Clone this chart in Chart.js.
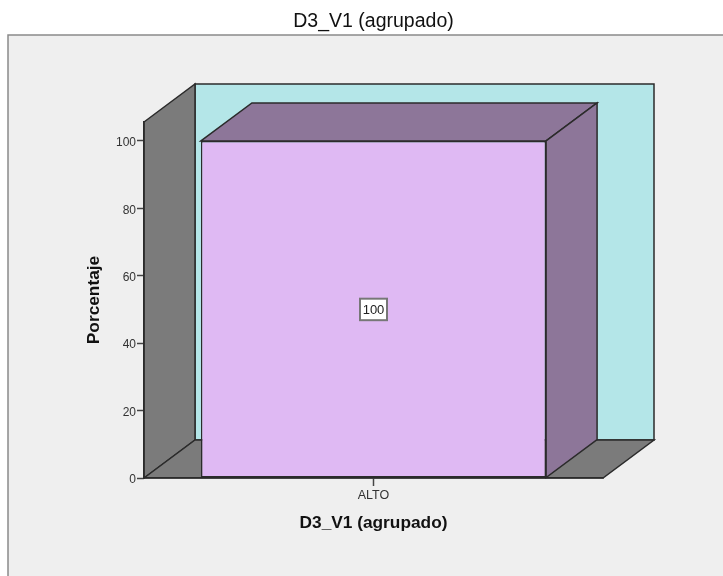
<!DOCTYPE html>
<html>
<head>
<meta charset="utf-8">
<title>D3_V1 (agrupado)</title>
<script src="https://cdn.jsdelivr.net/npm/chart.js@4"></script>
<style>
    html, body { margin: 0; padding: 0; background: #ffffff; }
    #box { width: 723px; height: 576px; }
</style>
</head>
<body>
<div id="box"><canvas id="chart-1"></canvas></div>
<script>
// Values
let categories = ['ALTO'];
let porcentajes = [100];
let yTicks = [0, 20, 40, 60, 80, 100];
let yAxisMax = 105.6;

let chartFont = '"Liberation Sans", Arial, sans-serif';
let lineColor = '#2b2b2b';

// How far the back of the 3D box is pushed away from the front
let depthX = 51;
let depthY = 38;

// Draws a filled and outlined polygon
function face(ctx, points, fill) {
    ctx.beginPath();
    points.forEach((p, i) => i == 0 ? ctx.moveTo(p[0], p[1]) : ctx.lineTo(p[0], p[1]));
    ctx.closePath();
    ctx.fillStyle = fill;
    ctx.fill();
    ctx.lineWidth = 1.5;
    ctx.strokeStyle = lineColor;
    ctx.lineJoin = 'miter';
    ctx.stroke();
}

// Grey panel and the walls of the box, under the axes
let wallsPlugin = {
    id: 'walls',
    beforeDraw(chart) {
        let ctx = chart.ctx;
        let a = chart.chartArea;

        ctx.save();
        ctx.fillStyle = '#efefef';
        ctx.strokeStyle = '#8a8a8a';
        ctx.lineWidth = 1.5;
        ctx.fillRect(8, 35, chart.width, chart.height);
        ctx.strokeRect(8, 35, chart.width, chart.height);

        // back wall
        face(ctx, [
            [a.left + depthX, a.top - depthY],
            [a.right + depthX, a.top - depthY],
            [a.right + depthX, a.bottom - depthY],
            [a.left + depthX, a.bottom - depthY]
        ], '#b4e6e8');

        // left wall
        face(ctx, [
            [a.left, a.top],
            [a.left + depthX, a.top - depthY],
            [a.left + depthX, a.bottom - depthY],
            [a.left, a.bottom]
        ], '#7b7b7b');

        // floor
        face(ctx, [
            [a.left, a.bottom],
            [a.left + depthX, a.bottom - depthY],
            [a.right + depthX, a.bottom - depthY],
            [a.right, a.bottom]
        ], '#7b7b7b');
        ctx.restore();
    }
};

// Top and side of each bar, plus the boxed value label
let barSidesPlugin = {
    id: 'barSides',
    beforeDatasetsDraw(chart) {
        let ctx = chart.ctx;
        ctx.save();
        chart.getDatasetMeta(0).data.forEach(bar => {
            let left = bar.x - bar.width / 2;
            let right = bar.x + bar.width / 2;

            face(ctx, [
                [left, bar.y],
                [left + depthX, bar.y - depthY],
                [right + depthX, bar.y - depthY],
                [right, bar.y]
            ], '#8d7699');

            face(ctx, [
                [right, bar.y],
                [right + depthX, bar.y - depthY],
                [right + depthX, bar.base - depthY],
                [right, bar.base]
            ], '#8d7699');
        });
        ctx.restore();
    },
    afterDatasetsDraw(chart) {
        let ctx = chart.ctx;
        ctx.save();
        chart.getDatasetMeta(0).data.forEach((bar, i) => {
            let cx = bar.x;
            let cy = (bar.y + bar.base) / 2;

            ctx.fillStyle = '#ffffff';
            ctx.strokeStyle = '#777777';
            ctx.lineWidth = 2;
            ctx.fillRect(cx - 13.5, cy - 10.5, 27, 21.5);
            ctx.strokeRect(cx - 13.5, cy - 10.5, 27, 21.5);

            ctx.fillStyle = '#222222';
            ctx.font = '13px ' + chartFont;
            ctx.textAlign = 'center';
            ctx.textBaseline = 'middle';
            ctx.fillText(String(porcentajes[i]), cx, cy + 1);
        });
        ctx.restore();
    }
};

new Chart(document.getElementById('chart-1'), {
    type: 'bar',
    data: {
        labels: categories,
        datasets: [{
            label: 'Porcentaje',
            data: porcentajes,
            backgroundColor: '#dfb9f3',
            borderColor: lineColor,
            borderWidth: 1.5,
            borderSkipped: false,
            barPercentage: 0.752,
            categoryPercentage: 1
        }]
    },
    plugins: [wallsPlugin, barSidesPlugin],
    options: {
        responsive: true,
        maintainAspectRatio: false,
        animation: false,
        layout: {
            padding: { left: 0, right: 120, top: 10, bottom: 0 }
        },
        plugins: {
            legend: { display: false },
            tooltip: { enabled: false },
            title: {
                display: true,
                text: 'D3_V1 (agrupado)',
                color: '#111111',
                fullSize: false,
                font: { family: chartFont, size: 19.5, weight: 'normal' },
                padding: { top: 0, bottom: 88.6 }
            }
        },
        scales: {
            x: {
                // Fixed height so the plot floor sits where it does in the picture
                afterFit(scale) { scale.height = 98; },
                grid: {
                    display: true,
                    offset: false,
                    drawOnChartArea: false,
                    drawTicks: true,
                    tickLength: 8,
                    tickWidth: 1.5,
                    color: '#444444'
                },
                border: { display: true, color: lineColor, width: 1.5 },
                ticks: {
                    color: '#333333',
                    padding: 2,
                    maxRotation: 0,
                    font: { family: chartFont, size: 12.5 }
                },
                title: {
                    display: true,
                    text: 'D3_V1 (agrupado)',
                    color: '#111111',
                    font: { family: chartFont, size: 17.3, weight: 'bold' },
                    padding: { top: 0, bottom: 42.6 }
                }
            },
            y: {
                min: 0,
                max: yAxisMax,
                afterFit(scale) { scale.width = 144; },
                // Keep only the round ticks, not the top of the axis
                afterBuildTicks(scale) {
                    scale.ticks = yTicks.map(v => ({ value: v }));
                },
                grid: {
                    display: true,
                    drawOnChartArea: false,
                    drawTicks: true,
                    tickLength: 7,
                    tickWidth: 1.5,
                    color: '#444444'
                },
                border: { display: true, color: lineColor, width: 1.5 },
                ticks: {
                    color: '#333333',
                    padding: 1,
                    labelOffset: 2,
                    font: { family: chartFont, size: 12 }
                },
                title: {
                    display: true,
                    text: 'Porcentaje',
                    color: '#111111',
                    font: { family: chartFont, size: 17.3, weight: 'bold' },
                    padding: { top: 84, bottom: 0 }
                }
            }
        }
    }
});
</script>
</body>
</html>
